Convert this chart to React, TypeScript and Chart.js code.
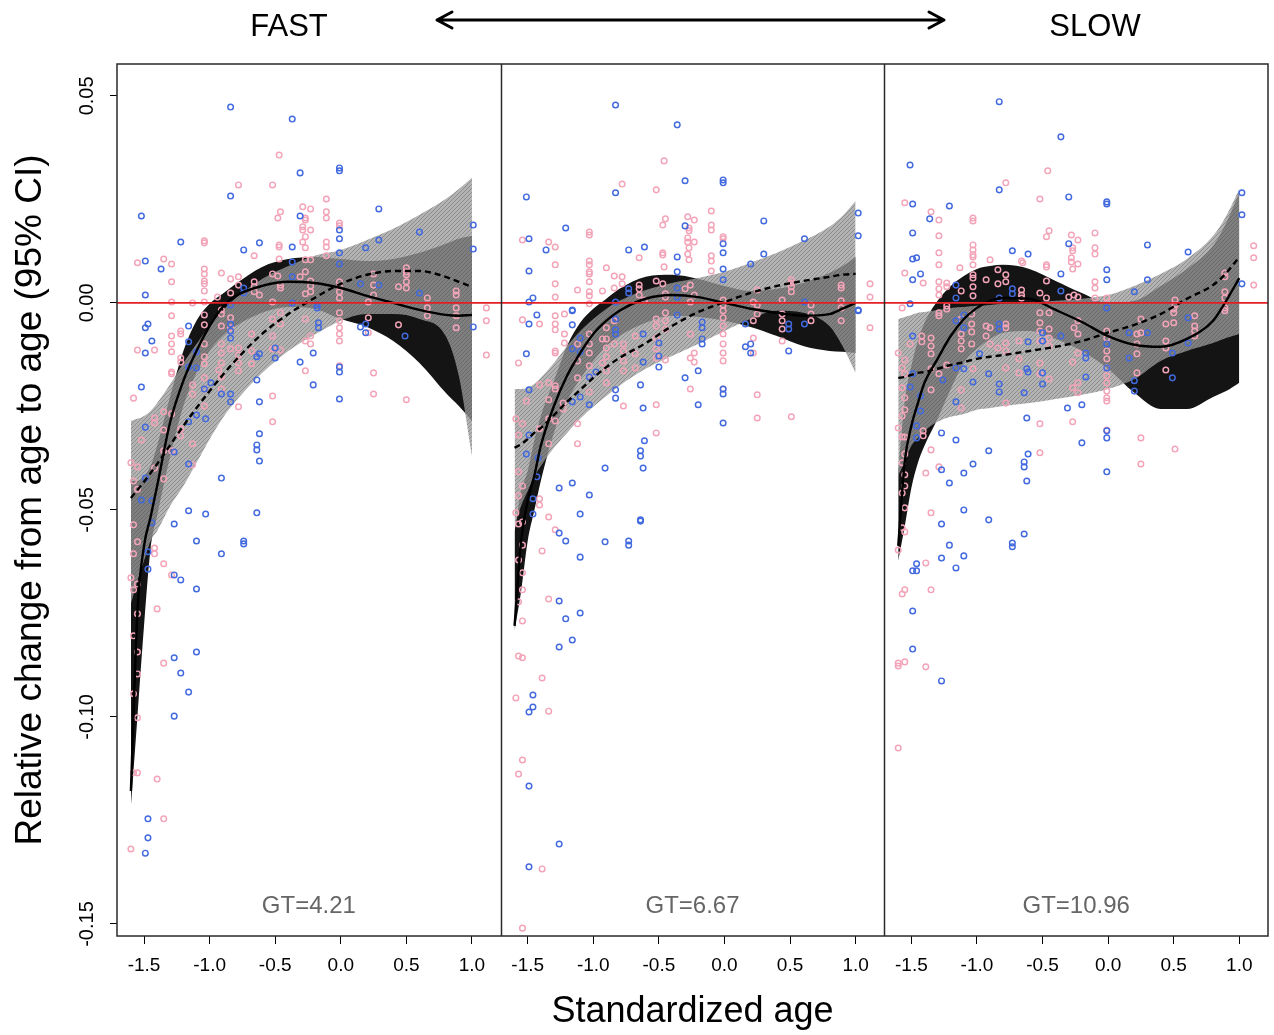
import React, { useEffect, useRef } from 'react';
import { Chart, registerables } from 'chart.js';

Chart.register(...registerables);

// ---------- axes ----------
const X_TICKS = [-1.5, -1.0, -0.5, 0.0, 0.5, 1.0];
const X_TICK_LABELS = ['-1.5', '-1.0', '-0.5', '0.0', '0.5', '1.0'];
const Y_TICKS = [-0.15, -0.1, -0.05, 0, 0.05];
const Y_TICK_LABELS = ['-0.15', '-0.10', '-0.05', '0.00', '0.05'];
const PANEL_WIDTH = 2.925; // standardized-age units spanned by one panel
const X_MIN = -1.706;
const X_MAX = X_MIN + 3 * PANEL_WIDTH;
const Y_MIN = -0.1529;
const Y_MAX = 0.0577;
const ZERO = 0;

const PANEL_LABELS = ['GT=4.21', 'GT=6.67', 'GT=10.96'];
const HEADER_LEFT = 'FAST';
const HEADER_RIGHT = 'SLOW';
const X_TITLE = 'Standardized age';
const Y_TITLE = 'Relative change from age to age (95% CI)';

// ---------- fitted curves (shared age grid) ----------
const CURVE_X = [-1.6, -1.55, -1.5, -1.45, -1.4, -1.3, -1.2, -1.1, -1.0, -0.9, -0.8, -0.6, -0.4, -0.2, 0, 0.2, 0.4, 0.6, 0.8, 0.9, 1.0];

// panel 1 (GT=4.21)
const P1_FIT = [-0.1179, -0.0744, -0.0587, -0.0517, -0.0442, -0.0287, -0.0188, -0.0116, -0.0056, -0.001, 0.0017, 0.0041, 0.0051, 0.0048, 0.0036, 0.0017, 0, -0.0017, -0.0029, -0.0031, -0.0029];
const P1_FIT_HI = [-0.043, -0.043, -0.0418, -0.0394, -0.0345, -0.0225, -0.0116, -0.0043, -0.0002, 0.0022, 0.0046, 0.0087, 0.0106, 0.0111, 0.0106, 0.0101, 0.0106, 0.0121, 0.0143, 0.0155, 0.0162];
const P1_FIT_LO = [-0.1215, -0.0998, -0.078, -0.0594, -0.0514, -0.037, -0.0249, -0.0169, -0.0116, -0.008, -0.0056, -0.0024, -0.001, -0.0014, -0.0039, -0.0058, -0.0092, -0.0145, -0.0217, -0.0249, -0.0285];
const P1_TREND = [-0.0471, -0.0452, -0.0432, -0.0411, -0.0389, -0.0343, -0.0297, -0.0254, -0.0213, -0.0174, -0.0138, -0.0075, -0.0027, 0.0012, 0.0046, 0.0068, 0.0077, 0.0077, 0.0063, 0.0051, 0.0039];
const P1_TREND_HI = [-0.0285, -0.028, -0.0273, -0.0261, -0.0242, -0.0196, -0.0145, -0.0099, -0.0056, -0.0019, 0.0012, 0.0058, 0.0089, 0.0114, 0.0128, 0.0152, 0.0179, 0.0213, 0.0251, 0.0275, 0.0302];
const P1_TREND_LO = [-0.0727, -0.0671, -0.0623, -0.0575, -0.0551, -0.049, -0.0442, -0.0386, -0.0329, -0.0278, -0.0237, -0.0169, -0.0116, -0.0077, -0.0043, -0.0027, -0.0027, -0.0039, -0.008, -0.0176, -0.037];

// panel 2 (GT=6.67)
const P2_FIT = [-0.078, -0.0575, -0.0478, -0.0418, -0.0345, -0.0249, -0.0176, -0.0121, -0.0075, -0.0043, -0.0019, 0.001, 0.0019, 0.0014, 0, -0.0014, -0.0024, -0.0031, -0.0027, -0.0014, 0];
const P2_FIT_HI = [-0.0551, -0.0454, -0.0406, -0.0333, -0.0273, -0.0188, -0.0104, -0.0048, -0.0014, 0.001, 0.0034, 0.0063, 0.0068, 0.0058, 0.0041, 0.0029, 0.0034, 0.0048, 0.0072, 0.0089, 0.0111];
const P2_FIT_LO = [-0.0792, -0.0696, -0.0575, -0.0502, -0.043, -0.0314, -0.0237, -0.0184, -0.014, -0.0104, -0.008, -0.0048, -0.0031, -0.0034, -0.0043, -0.0058, -0.008, -0.0104, -0.0116, -0.0118, -0.0121];
const P2_TREND = [-0.035, -0.0341, -0.0329, -0.0314, -0.0302, -0.0271, -0.0239, -0.021, -0.0181, -0.0155, -0.0133, -0.0097, -0.0056, -0.0022, 0.0002, 0.0024, 0.0041, 0.0053, 0.0063, 0.0068, 0.007];
const P2_TREND_HI = [-0.0208, -0.0208, -0.0205, -0.0196, -0.0181, -0.0145, -0.0104, -0.0068, -0.0039, -0.0014, 0.0005, 0.0031, 0.0048, 0.006, 0.0075, 0.0097, 0.0121, 0.015, 0.0184, 0.021, 0.0246];
const P2_TREND_LO = [-0.0539, -0.049, -0.0454, -0.042, -0.0394, -0.035, -0.0314, -0.028, -0.0251, -0.0225, -0.02, -0.0159, -0.0128, -0.0099, -0.0068, -0.0039, -0.0019, -0.0024, -0.0056, -0.0104, -0.0169];

// panel 3 (GT=10.96)
const P3_FIT = [-0.0587, -0.0382, -0.0297, -0.0242, -0.0193, -0.0135, -0.008, -0.0039, -0.0012, 0.0005, 0.0012, 0.001, -0.0017, -0.0046, -0.008, -0.0101, -0.0106, -0.0087, -0.0043, 0.0005, 0.006];
const P3_FIT_HI = [-0.0406, -0.0237, -0.0152, -0.0092, -0.0048, 0.0005, 0.0041, 0.0065, 0.0082, 0.0089, 0.0092, 0.0082, 0.0053, 0.0024, 0, 0.0005, 0.0041, 0.0082, 0.0138, 0.0193, 0.0266];
const P3_FIT_LO = [-0.0623, -0.0539, -0.0447, -0.0386, -0.0345, -0.028, -0.0208, -0.0145, -0.0111, -0.0087, -0.0072, -0.0068, -0.0087, -0.0116, -0.0159, -0.0217, -0.0256, -0.0256, -0.0227, -0.0213, -0.0193];
const P3_TREND = [-0.0181, -0.0179, -0.0174, -0.0169, -0.0167, -0.0159, -0.015, -0.0143, -0.0135, -0.013, -0.0126, -0.0116, -0.0106, -0.0092, -0.0072, -0.0053, -0.0027, 0.001, 0.0043, 0.0072, 0.0111];
const P3_TREND_HI = [-0.0039, -0.0034, -0.0029, -0.0024, -0.0022, -0.0017, -0.0012, -0.001, -0.0007, -0.0005, -0.0002, 0, 0.0005, 0.001, 0.0019, 0.0041, 0.007, 0.0106, 0.0162, 0.021, 0.0275];
const P3_TREND_LO = [-0.0418, -0.0382, -0.0345, -0.0326, -0.0309, -0.0287, -0.0275, -0.0268, -0.0258, -0.0254, -0.0249, -0.0242, -0.0232, -0.0222, -0.0208, -0.0184, -0.014, -0.0116, -0.0097, -0.0085, -0.0075];

// ---------- observations [standardized age, relative change] ----------
const P1_BLUE = [
  [-0.84, 0.0473], [-0.37, 0.0444], [-0.31, 0.0314], [-0.01, 0.0326], [-0.01, 0.0319], [-0.84, 0.0258], [-1.52, 0.021], [0.29, 0.0227], [-0.31, 0.021], [-1.22, 0.0147], [-0.62, 0.0145], [-0.74, 0.0128], [-0.37, 0.0135], [-0.01, 0.0176], [-0.01, 0.0155], [0.6, 0.0171], [1.01, 0.0188], [1.01, 0.013], [-1.49, 0.0101], [-1.37, 0.0082], [-1.49, 0.0019], [0.29, 0.0152], [0.19, 0.0133], [-0.37, 0.0099], [-0.37, 0.0063], [-0.01, 0.0094], [-0.01, 0.0121], [-0.74, 0.0036], [-0.74, 0.0024], [0.6, 0.0024], [0.15, 0.0046], [0.29, 0.0043], [-0.18, -0.0005], [-0.18, -0.0012], [-0.37, 0], [-0.84, -0.0005],
  [-1.49, -0.006], [-1.47, -0.0051], [-1.44, -0.0092], [-1.49, -0.0121], [-1.16, -0.0056], [-1.16, -0.0094], [-1.1, -0.0118], [-1.16, -0.0155], [-1.1, -0.0157], [-0.84, -0.0051], [-0.84, -0.0068], [-0.84, -0.0085], [-1.52, -0.0203], [-0.99, -0.0193], [-1.04, -0.0208], [-0.84, -0.022], [-0.84, -0.0239], [-0.91, -0.022], [-0.64, -0.0186], [-0.62, -0.0239], [-0.62, -0.0316], [-0.64, -0.0343], [-0.64, -0.0355], [-0.62, -0.0382], [-1.1, -0.0271], [-1.16, -0.0287], [-1.03, -0.028], [-1.49, -0.03], [-1.27, -0.036], [-1.16, -0.0389], [-1.49, -0.0423], [-1.52, -0.0476], [-1.44, -0.0478], [-0.91, -0.0423], [-1.16, -0.0502], [-1.03, -0.051], [-0.64, -0.0507], [-1.44, -0.0531], [-1.27, -0.0534], [-0.62, -0.0123], [-0.64, -0.013], [-0.5, -0.0133], [-0.5, -0.0109], [-0.31, -0.0143], [-0.21, -0.0121], [-0.21, -0.0198], [-0.01, -0.0155], [-0.01, -0.0167], [-0.01, -0.0232], [0.15, -0.0058], [0.19, -0.0051], [0.19, -0.0072], [0.49, -0.008], [1.01, -0.0058], [-0.17, -0.0048], [-0.17, -0.006],
  [-1.1, -0.0575], [-0.74, -0.0575], [-0.74, -0.0582], [-0.91, -0.0606], [-1.47, -0.0601], [-1.47, -0.0643], [-1.27, -0.0657], [-1.22, -0.0669], [-1.1, -0.0691], [-1.1, -0.0843], [-1.27, -0.0857], [-1.22, -0.0894], [-1.16, -0.094], [-1.27, -0.0998], [-1.47, -0.1246], [-1.47, -0.1292], [-1.49, -0.1329],
];
const P1_PINK = [
  [-0.47, 0.0357], [-0.78, 0.0285], [-0.52, 0.0285], [-0.11, 0.0251], [-0.29, 0.0232], [-0.23, 0.0227], [-0.46, 0.022], [-0.48, 0.0205], [-0.11, 0.022], [-0.11, 0.0205], [-0.27, 0.0205], [-0.27, 0.02], [-0.01, 0.0193], [-0.01, 0.0186], [-0.29, 0.0184], [-0.29, 0.0176], [-0.23, 0.0176], [-0.27, 0.016], [-1.04, 0.015], [-1.04, 0.0145], [-0.11, 0.0147], [-0.11, 0.0135], [-0.11, 0.0114], [-0.29, 0.0147], [-0.27, 0.0133], [-0.47, 0.014], [-0.47, 0.0135], [-0.66, 0.0114], [-1.35, 0.0106], [-1.55, 0.0097], [-1.29, 0.0094], [-0.47, 0.0106], [-0.27, 0.0104], [-0.23, 0.0104], [-1.04, 0.0082], [-1.04, 0.007], [-1.04, 0.0053], [-1.04, 0.0046], [-0.91, 0.0072], [-1.29, 0.0051], [-1.04, 0.0029], [-1.13, 0], [-1.04, 0.0002], [-1.29, 0.0002], [-0.52, 0.007], [-0.48, 0.0065], [-0.31, 0.0063], [-0.27, 0.0075], [-0.84, 0.0058], [-0.78, 0.0063], [-0.78, 0.0043], [-0.66, 0.0051], [-0.66, 0.0039], [-0.66, 0.0027], [-0.84, 0.0024], [-0.62, 0.0019], [-0.46, 0.0043], [-0.46, 0.0036], [-0.23, 0.0053], [-0.23, 0.0041], [-0.23, 0.0027], [-0.27, 0.0022], [-0.01, 0.0051], [-0.01, 0.0039], [-0.01, 0.0027], [-0.01, 0.0012], [0.25, 0.007], [0.25, 0.0043], [0.25, 0.0019], [0.21, 0.0002], [0.44, 0.0039], [0.5, 0.0085], [0.5, 0.0075], [0.5, 0.0068], [0.5, 0.0051], [0.5, 0.0036], [0.66, 0.0012], [0.88, 0.0029], [0.88, 0.0019], [1.11, -0.0012], [-0.52, 0.0002], [-0.91, -0.0017], [-0.94, 0.0014],
  [-1.29, -0.0031], [-1.29, -0.008], [-1.29, -0.0099], [-1.29, -0.0118], [-1.22, -0.0068], [-1.22, -0.0075], [-1.55, -0.0114], [-1.42, -0.0114], [-1.29, -0.0167], [-1.29, -0.0171], [-1.22, -0.0133], [-1.22, -0.0143], [-1.04, -0.0053], [-1.04, -0.0029], [-1.04, -0.0099], [-1.04, -0.013], [-1.04, -0.0147], [-1.04, -0.0181], [-1.04, -0.0208], [-1.04, -0.0249], [-1.13, -0.0198], [-1.13, -0.022], [-0.91, -0.0027], [-0.91, -0.0056], [-0.84, -0.0036], [-0.84, -0.006], [-0.91, -0.0099], [-0.91, -0.0121], [-0.91, -0.0145], [-0.91, -0.0179], [-0.84, -0.0111], [-0.93, -0.0162], [-0.91, -0.0208], [-0.78, -0.0109], [-0.78, -0.0126], [-0.78, -0.0145], [-0.78, -0.0164], [-0.78, -0.0251], [-0.68, -0.0075], [-0.68, -0.0116], [-0.68, -0.0147], [-0.52, -0.0039], [-0.52, -0.008], [-0.52, -0.0111], [-0.52, -0.0225], [-0.52, -0.0287], [-0.46, -0.0024], [-0.46, -0.0051], [-0.46, -0.0114], [-0.27, -0.0039], [-0.27, -0.0092], [-0.23, -0.0099], [-0.27, -0.0164], [-0.23, -0.008], [-0.01, -0.0024], [-0.01, -0.0043], [-0.01, -0.006], [-0.01, -0.0075], [-0.01, -0.0092], [-0.01, -0.0152], [0.21, -0.0036], [0.21, -0.0072], [0.25, -0.0169], [0.25, -0.022], [0.44, -0.0053], [0.5, -0.0234], [0.88, -0.006], [0.88, -0.0031], [0.88, -0.0012], [1.11, -0.0043], [1.11, -0.0126], [0.66, -0.0012], [0.66, -0.0031], [-1.58, -0.023], [-1.35, -0.0263], [-1.29, -0.0268], [-1.42, -0.0278], [-1.42, -0.029], [-1.35, -0.0307], [-1.52, -0.0331], [-1.22, -0.0304], [-1.22, -0.0321], [-1.13, -0.034], [-1.35, -0.0357], [-1.29, -0.0357], [-1.6, -0.0386], [-1.55, -0.0396], [-1.13, -0.0391], [-1.42, -0.0399], [-1.58, -0.043], [-1.55, -0.045], [-1.35, -0.0425], [-1.58, -0.0536],
  [-1.55, -0.0577], [-1.42, -0.0592], [-1.42, -0.0606], [-1.58, -0.0606], [-1.35, -0.063], [-1.29, -0.0657], [-1.6, -0.0664], [-1.55, -0.0679], [-1.58, -0.0693], [-1.4, -0.0739], [-1.55, -0.0751], [-1.58, -0.0804], [-1.55, -0.0843], [-1.35, -0.087], [-1.55, -0.0896], [-1.58, -0.0944], [-1.55, -0.1002], [-1.58, -0.1135], [-1.55, -0.1135], [-1.4, -0.115], [-1.35, -0.1246], [-1.6, -0.1319],
];

const P2_BLUE = [
  [-0.83, 0.0478], [-0.36, 0.043], [-0.3, 0.0295], [-0.01, 0.0297], [-0.01, 0.029], [-0.83, 0.0266], [-1.51, 0.0256], [-1.21, 0.0181], [-0.3, 0.0186], [0.3, 0.0198], [-1.49, 0.0155], [-1.36, 0.0128], [-0.73, 0.0128], [-0.61, 0.0135], [-0.36, 0.0111], [-0.36, 0.0075], [-0.36, 0.0036], [-0.36, 0.0014], [-0.01, 0.0143], [-0.01, 0.0121], [-0.01, 0.0082], [-0.01, 0.0056], [0.2, 0.0094], [0.3, 0.0118], [0.61, 0.0155], [1.02, 0.0217], [1.02, 0.0162], [-1.49, 0.0077], [-1.46, 0.0012], [-1.49, 0.0002], [-0.73, 0.0034], [-0.73, 0.0024], [1.02, -0.0019], [0.61, 0.0002], [-0.83, 0.0002], [-1.16, -0.0019],
  [-1.43, -0.0029], [-1.49, -0.0051], [-1.16, -0.0017], [-1.16, -0.0053], [-1.51, -0.0123], [-1.1, -0.0085], [-1.1, -0.0118], [-1.16, -0.0111], [-0.83, -0.0065], [-0.83, -0.0075], [-1.49, -0.021], [-1.03, -0.0179], [-0.98, -0.0167], [-0.83, -0.021], [-0.83, -0.023], [-1.16, -0.0239], [-1.1, -0.0227], [-1.03, -0.0246], [-0.64, -0.0198], [-0.62, -0.0254], [-0.61, -0.0333], [-0.64, -0.0357], [-0.64, -0.037], [-0.62, -0.0399], [-0.91, -0.0399], [-1.49, -0.0319], [-1.51, -0.0365], [-1.42, -0.0374], [-1.43, -0.042], [-1.26, -0.0447], [-1.16, -0.0435], [-1.03, -0.0464], [-1.46, -0.0473], [-1.1, -0.051], [-1.46, -0.051], [-0.64, -0.0524], [-0.62, -0.0075], [-0.62, -0.0143], [-0.5, -0.0097], [-0.5, -0.0128], [-0.5, -0.0155], [-0.36, -0.0029], [-0.3, -0.0181], [-0.2, -0.0164], [-0.2, -0.0246], [-0.17, -0.0046], [-0.17, -0.006], [-0.17, -0.0087], [-0.17, -0.0099], [-0.01, -0.0208], [-0.01, -0.022], [-0.01, -0.029], [0.16, -0.0051], [0.16, -0.0106], [0.2, -0.0099], [0.2, -0.0121], [0.49, -0.0051], [0.49, -0.0063], [0.49, -0.0116], [0.61, -0.0051], [1.02, -0.0017], [-0.83, -0.0039],
  [-1.26, -0.0556], [-1.21, -0.0575], [-0.91, -0.0577], [-0.73, -0.0575], [-0.73, -0.0585], [-1.1, -0.0614], [-0.64, -0.0527], [-1.26, -0.072], [-1.1, -0.0749], [-1.21, -0.0763], [-1.16, -0.0814], [-1.26, -0.0831], [-1.46, -0.0947], [-1.46, -0.0976], [-1.49, -0.0988], [-1.49, -0.1167], [-1.26, -0.1307], [-1.49, -0.1362],
];
const P2_PINK = [
  [-0.46, 0.0343], [-0.78, 0.0287], [-0.52, 0.0273], [-0.1, 0.0222], [-0.28, 0.0208], [-0.23, 0.02], [-0.45, 0.0203], [-0.47, 0.0188], [-0.1, 0.0188], [-0.1, 0.0176], [-0.27, 0.0181], [-0.27, 0.0174], [-0.01, 0.016], [-0.01, 0.0155], [-0.28, 0.0157], [-0.28, 0.0147], [-0.23, 0.0147], [-0.27, 0.0133], [-1.03, 0.0171], [-1.03, 0.0164], [-1.54, 0.0152], [-1.34, 0.0147], [-1.29, 0.0135], [-0.47, 0.0121], [-0.47, 0.0116], [-0.1, 0.0114], [-0.1, 0.0101], [-0.1, 0.0077], [-0.28, 0.0118], [-0.27, 0.0104], [-0.65, 0.0109], [-0.46, 0.0087], [-1.29, 0.0092], [-1.03, 0.0101], [-1.03, 0.0092], [-1.03, 0.0075], [-1.03, 0.007], [-1.03, 0.0051], [-0.9, 0.0085], [-0.84, 0.0065], [-0.78, 0.0063], [-1.29, 0.0046], [-1.12, 0.0031], [-1.29, 0.0014], [-1.03, 0.0027], [-1.03, 0.0017], [-1.03, -0.0002], [-0.93, 0.0029], [-0.84, 0.0036], [-0.78, 0.0046], [-0.65, 0.0043], [-0.65, 0.0034], [-0.65, 0.0019], [-0.61, 0.0007], [-0.52, 0.0053], [-0.47, 0.0046], [-0.45, 0.0022], [-0.45, 0.0014], [-0.3, 0.0034], [-0.26, 0.0043], [-0.23, 0.0019], [-0.26, 0.0002], [-0.01, 0.0007], [-0.01, -0.0005], [0.25, 0.0031], [0.22, 0.0002], [0.25, -0.0005], [0.44, 0.0007], [0.51, 0.0056], [0.51, 0.0048], [0.51, 0.0039], [0.51, 0.0027], [0.66, -0.0005], [0.89, 0.0043], [0.89, 0.0036], [0.89, 0.0005], [1.11, 0.0046], [1.11, 0.0014],
  [-1.54, -0.0041], [-1.41, -0.0051], [-1.29, -0.0031], [-1.29, -0.0051], [-1.29, -0.0065], [-1.22, -0.0027], [-1.22, -0.0075], [-1.22, -0.0097], [-1.29, -0.0116], [-1.29, -0.0121], [-1.57, -0.0145], [-1.03, -0.0075], [-1.03, -0.0099], [-1.03, -0.0121], [-1.03, -0.0152], [-1.03, -0.0179], [-1.03, -0.0215], [-1.12, -0.0099], [-1.12, -0.014], [-1.12, -0.0181], [-0.9, -0.006], [-0.9, -0.0087], [-0.9, -0.0109], [-0.9, -0.013], [-0.9, -0.0164], [-0.9, -0.0193], [-0.93, -0.0087], [-0.93, -0.0145], [-0.84, -0.0043], [-0.84, -0.0099], [-0.77, -0.0099], [-0.77, -0.0116], [-0.77, -0.014], [-0.77, -0.0164], [-0.77, -0.0249], [-0.68, -0.008], [-0.68, -0.0123], [-0.68, -0.0157], [-0.52, -0.0039], [-0.52, -0.0056], [-0.52, -0.0085], [-0.52, -0.0111], [-0.52, -0.0133], [-0.52, -0.0246], [-0.52, -0.0314], [-0.45, -0.0024], [-0.45, -0.0043], [-0.45, -0.0063], [-0.45, -0.0138], [-0.26, -0.0075], [-0.26, -0.0133], [-0.23, -0.0121], [-0.23, -0.0143], [-0.26, -0.0208], [-0.01, -0.0019], [-0.01, -0.0036], [-0.01, -0.0056], [-0.01, -0.0075], [-0.01, -0.0099], [-0.01, -0.0121], [-0.01, -0.014], [-0.01, -0.0208], [0.22, -0.0043], [0.25, -0.0027], [0.22, -0.0085], [0.22, -0.0121], [0.25, -0.0222], [0.25, -0.0278], [0.44, -0.0027], [0.44, -0.0043], [0.44, -0.0063], [0.44, -0.0092], [0.51, -0.0275], [0.66, -0.0027], [0.66, -0.0043], [0.89, -0.0012], [0.89, -0.0043], [1.11, -0.006], [-1.59, -0.028], [-1.54, -0.0292], [-1.51, -0.0237], [-1.41, -0.0198], [-1.34, -0.0193], [-1.29, -0.02], [-1.29, -0.0208], [-1.34, -0.0234], [-1.23, -0.0242], [-1.23, -0.0256], [-1.57, -0.0319], [-1.41, -0.0304], [-1.34, -0.028], [-1.29, -0.0285], [-1.12, -0.0292], [-1.34, -0.034], [-1.12, -0.034], [-1.57, -0.0408], [-1.54, -0.0442], [-1.57, -0.0466], [-1.41, -0.0473], [-1.41, -0.0488], [-1.59, -0.0507], [-1.34, -0.0517], [-1.57, -0.0534], [-1.54, -0.0529],
  [-1.29, -0.0548], [-1.54, -0.0585], [-1.39, -0.0599], [-1.57, -0.0621], [-1.54, -0.0652], [-1.54, -0.0693], [-1.34, -0.0715], [-1.57, -0.0722], [-1.54, -0.0768], [-1.57, -0.0853], [-1.54, -0.0857], [-1.39, -0.0906], [-1.59, -0.0954], [-1.34, -0.0986], [-1.54, -0.1104], [-1.57, -0.1138], [-1.39, -0.1367], [-1.54, -0.151],
];

const P3_BLUE = [
  [-0.83, 0.0486], [-0.36, 0.0401], [-1.51, 0.0333], [-0.83, 0.0273], [-0.3, 0.0256], [-0.01, 0.0244], [-0.01, 0.0239], [-1.49, 0.0239], [-1.21, 0.0234], [-1.36, 0.0203], [-1.49, 0.0169], [-0.73, 0.0126], [-0.61, 0.0118], [-0.3, 0.0143], [0.3, 0.014], [0.61, 0.0123], [1.02, 0.0266], [1.02, 0.0213], [-1.49, 0.0106], [-1.46, 0.0109], [-1.43, 0.007], [-1.49, 0.0056], [-0.36, 0.007], [-0.01, 0.008], [-0.01, 0.0056], [0.2, 0.0027], [0.3, 0.0056], [1.02, 0.0046], [-1.16, 0.0043], [-1.16, 0.0012], [-0.73, 0.0034], [-0.73, 0.0022], [-0.83, 0.0012], [-0.36, 0.0029], [-1.51, -0.0002], [-0.01, -0.0012],
  [-1.49, -0.008], [-1.1, -0.0029], [-1.1, -0.006], [-1.16, -0.0043], [-0.83, -0.0051], [-0.83, -0.0063], [-0.36, -0.008], [-0.5, -0.0072], [-0.5, -0.0092], [-0.61, -0.0094], [-0.17, -0.0121], [-0.17, -0.0133], [-0.17, -0.0179], [-0.01, -0.0099], [-0.01, -0.0157], [0.16, -0.0072], [0.16, -0.0133], [0.2, -0.0188], [0.2, -0.0213], [0.3, -0.0072], [0.49, -0.0121], [0.49, -0.0181], [0.61, -0.0097], [0.61, -0.0036], [-1.49, -0.0171], [-1.51, -0.0203], [-1.43, -0.0225], [-1.43, -0.0261], [-1.46, -0.0297], [-1.46, -0.0326], [-1.26, -0.0186], [-1.16, -0.0157], [-1.1, -0.0159], [-1.03, -0.0191], [-0.98, -0.0123], [-0.83, -0.0196], [-0.83, -0.0215], [-0.91, -0.0171], [-0.64, -0.0217], [-0.62, -0.0159], [-0.61, -0.0167], [-0.5, -0.0169], [-0.5, -0.0196], [-1.16, -0.0239], [-0.62, -0.0278], [-0.31, -0.0254], [-0.2, -0.0246], [-1.27, -0.0314], [-1.16, -0.0331], [-0.91, -0.0357], [-0.61, -0.0365], [-0.64, -0.0384], [-0.64, -0.0396], [-1.03, -0.0389], [-1.1, -0.0411], [-1.27, -0.0403], [-1.21, -0.0435], [-0.62, -0.043], [-0.2, -0.0338], [-0.01, -0.0309], [-0.01, -0.0326], [-0.01, -0.0408], [-1.1, -0.05], [-0.91, -0.0524], [-1.27, -0.0534],
  [-0.64, -0.0558], [-0.73, -0.058], [-0.73, -0.0589], [-1.21, -0.0585], [-1.1, -0.0611], [-1.27, -0.0616], [-1.16, -0.064], [-1.46, -0.063], [-1.49, -0.0647], [-1.46, -0.0647], [-1.49, -0.0744], [-1.49, -0.0836], [-1.27, -0.0913],
];
const P3_PINK = [
  [-0.46, 0.0319], [-0.78, 0.029], [-0.52, 0.0251], [-1.55, 0.0242], [-1.35, 0.022], [-0.1, 0.0169], [-0.45, 0.0174], [-0.47, 0.016], [-0.28, 0.0164], [-0.23, 0.0152], [-1.29, 0.02], [-1.29, 0.0162], [-1.03, 0.0205], [-1.03, 0.0198], [-0.1, 0.0133], [-0.1, 0.0118], [-0.27, 0.0133], [-0.27, 0.0126], [-1.03, 0.014], [-1.03, 0.0128], [-1.03, 0.0116], [-1.03, 0.0111], [-1.03, 0.0092], [-1.29, 0.0121], [-1.29, 0.0092], [-0.9, 0.0104], [-0.65, 0.0097], [-0.28, 0.0109], [-0.28, 0.0099], [-0.23, 0.0094], [-0.47, 0.0092], [-0.47, 0.0087], [-1.13, 0.0085], [-0.27, 0.0082], [-1.55, 0.0072], [-1.41, 0.0048], [-1.29, 0.0051], [-1.29, 0.0034], [-1.29, 0.0019], [-1.23, 0.0048], [-1.23, 0.0039], [-1.03, 0.0068], [-1.03, 0.006], [-1.03, 0.0039], [-1.03, 0.0017], [-1.12, 0.0029], [-0.93, 0.0056], [-0.84, 0.008], [-0.84, 0.0046], [-0.78, 0.0068], [-0.78, 0.0051], [-0.66, 0.0031], [-0.66, 0.0019], [-0.66, 0.0012], [-0.52, 0.0024], [-0.47, 0.0053], [-0.47, 0.0012], [-0.3, 0.0014], [-0.26, 0.0019], [-0.23, 0.0014], [-0.1, 0.0051], [-0.1, 0.0036], [-0.1, 0.0012], [-0.01, 0.0012], [0.51, 0.0007], [0.51, -0.0005], [0.89, 0.0072], [0.89, 0.0063], [0.89, 0.0027], [0.89, 0.0012], [1.11, 0.0138], [1.11, 0.0109], [1.11, 0.0043], [-0.66, 0.0101],
  [-1.23, -0.0007], [-1.23, -0.0015], [-1.29, -0.0024], [-1.29, -0.0031], [-1.04, -0.0027], [-1.04, -0.0051], [-1.04, -0.007], [-1.04, -0.0099], [-1.12, -0.0039], [-1.12, -0.0075], [-1.12, -0.0092], [-1.12, -0.0111], [-1.42, -0.008], [-1.42, -0.0094], [-1.35, -0.0085], [-1.35, -0.0104], [-1.57, -0.0012], [-1.51, -0.0099], [-1.6, -0.0121], [-1.57, -0.0157], [-1.35, -0.0123], [-1.35, -0.0159], [-1.29, -0.0171], [-1.23, -0.015], [-1.55, -0.0138], [-1.55, -0.0171], [-0.93, -0.0056], [-0.9, -0.006], [-0.93, -0.008], [-0.9, -0.0099], [-0.84, -0.0109], [-0.78, -0.0051], [-0.78, -0.006], [-0.78, -0.0097], [-0.78, -0.0116], [-0.78, -0.0157], [-0.78, -0.0242], [-0.68, -0.0092], [-0.68, -0.0135], [-0.68, -0.0169], [-0.52, -0.0024], [-0.52, -0.0048], [-0.52, -0.0068], [-0.52, -0.0092], [-0.52, -0.0145], [-0.52, -0.0171], [-0.52, -0.0292], [-0.52, -0.0362], [-0.45, -0.0024], [-0.45, -0.0063], [-0.45, -0.0085], [-0.45, -0.0104], [-0.45, -0.0184], [-0.27, -0.0143], [-0.27, -0.0205], [-0.23, -0.0121], [-0.23, -0.0193], [-0.23, -0.0217], [-0.27, -0.0287], [-0.26, -0.006], [-0.23, -0.0043], [-0.23, -0.0075], [-0.01, -0.0068], [-0.01, -0.0085], [-0.01, -0.0116], [-0.01, -0.0135], [-0.01, -0.0157], [-0.01, -0.0176], [-0.01, -0.0193], [-0.01, -0.0213], [-0.01, -0.0229], [-0.01, -0.0237], [-0.01, -0.0307], [0.22, -0.0075], [0.22, -0.0099], [0.22, -0.0123], [0.22, -0.0169], [0.25, -0.0072], [0.25, -0.0039], [0.25, -0.0326], [0.25, -0.0389], [0.44, -0.0092], [0.44, -0.0109], [0.44, -0.0051], [0.5, -0.0048], [0.44, -0.0162], [0.51, -0.0353], [0.5, -0.0015], [0.5, -0.0024], [0.66, -0.0031], [0.66, -0.0056], [0.66, -0.0068], [0.66, -0.008], [0.89, -0.0012], [0.89, -0.0019], [-1.6, -0.0302], [-1.57, -0.0324], [-1.55, -0.0324], [-1.57, -0.0273], [-1.55, -0.0258], [-1.55, -0.0229], [-1.57, -0.0205], [-1.41, -0.0309], [-1.41, -0.0321], [-1.35, -0.021], [-1.55, -0.0365], [-1.57, -0.0386], [-1.35, -0.0355], [-1.55, -0.0415], [-1.55, -0.0442], [-1.57, -0.0459], [-1.29, -0.0396], [-1.39, -0.0411], [-1.55, -0.0495], [-1.35, -0.0507], [-1.12, -0.021], [-1.12, -0.0254], [-1.03, -0.0159],
  [-1.57, -0.0543], [-1.55, -0.0553], [-1.6, -0.0597], [-1.39, -0.0628], [-1.55, -0.0693], [-1.57, -0.0703], [-1.35, -0.0693], [-1.6, -0.087], [-1.6, -0.0877], [-1.55, -0.0867], [-1.39, -0.0879], [-1.6, -0.1075],
];

// ---------- styling ----------
const FONT = "'Liberation Sans', Arial, Helvetica, sans-serif";
const BLUE = 'rgb(66,106,222)';
const PINK = 'rgb(243,164,184)';
const RED = 'rgb(228,30,36)';
const BAND_BLACK = '#141414';

function makeHatch(): CanvasPattern | string {
  const c = document.createElement('canvas');
  c.width = 4;
  c.height = 4;
  const g = c.getContext('2d');
  if (!g) return 'rgba(158,158,158,0.78)';
  g.fillStyle = 'rgba(158,158,158,0.78)';
  g.fillRect(0, 0, 4, 4);
  g.strokeStyle = 'rgba(70,70,70,0.35)';
  g.lineWidth = 1;
  g.beginPath();
  g.moveTo(0, 4); g.lineTo(4, 0);
  g.moveTo(-1, 1); g.lineTo(1, -1);
  g.moveTo(3, 5); g.lineTo(5, 3);
  g.stroke();
  return g.createPattern(c, 'repeat') || 'rgba(158,158,158,0.78)';
}

export default function App() {
  const ref = useRef<HTMLCanvasElement | null>(null);

  useEffect(() => {
    const canvas = ref.current;
    if (!canvas) return;
    const hatch = makeHatch();

    const panels = [
      { fit: P1_FIT, fitHi: P1_FIT_HI, fitLo: P1_FIT_LO, trend: P1_TREND, trendHi: P1_TREND_HI, trendLo: P1_TREND_LO, blue: P1_BLUE, pink: P1_PINK },
      { fit: P2_FIT, fitHi: P2_FIT_HI, fitLo: P2_FIT_LO, trend: P2_TREND, trendHi: P2_TREND_HI, trendLo: P2_TREND_LO, blue: P2_BLUE, pink: P2_PINK },
      { fit: P3_FIT, fitHi: P3_FIT_HI, fitLo: P3_FIT_LO, trend: P3_TREND, trendHi: P3_TREND_HI, trendLo: P3_TREND_LO, blue: P3_BLUE, pink: P3_PINK },
    ];

    const datasets: any[] = [];
    const bandBase = {
      borderWidth: 0,
      borderColor: 'rgba(0,0,0,0)',
      pointRadius: 0,
      cubicInterpolationMode: 'monotone',
    };
    const pointBase = {
      showLine: false,
      pointStyle: 'circle',
      pointRadius: 2.8,
      pointBorderWidth: 1.45,
      pointBackgroundColor: 'rgba(0,0,0,0)',
    };
    panels.forEach((pn, p) => {
      const off = p * PANEL_WIDTH;
      const curve = (arr: number[]) => CURVE_X.map((x, i) => ({ x: x + off, y: arr[i] }));
      const pts = (arr: number[][]) => arr.map(([x, y]) => ({ x: x + off, y }));
      // CI of solid fit (black)
      datasets.push({ ...bandBase, data: curve(pn.fitHi), fill: '+1', backgroundColor: BAND_BLACK, order: 40 });
      datasets.push({ ...bandBase, data: curve(pn.fitLo), fill: false, order: 40 });
      // CI of dashed fit (hatched grey)
      datasets.push({ ...bandBase, data: curve(pn.trendHi), fill: '+1', backgroundColor: hatch, order: 30 });
      datasets.push({ ...bandBase, data: curve(pn.trendLo), fill: false, order: 30 });
      // observations
      datasets.push({ ...pointBase, data: pts(pn.pink), pointBorderColor: PINK, borderColor: PINK, order: 21 });
      datasets.push({ ...pointBase, data: pts(pn.blue), pointBorderColor: BLUE, borderColor: BLUE, order: 20 });
      // fitted curves
      datasets.push({ data: curve(pn.fit), borderColor: '#000', borderWidth: 2.4, pointRadius: 0, fill: false, cubicInterpolationMode: 'monotone', order: 10 });
      datasets.push({ data: curve(pn.trend), borderColor: '#000', borderWidth: 2.4, borderDash: [6, 4], pointRadius: 0, fill: false, cubicInterpolationMode: 'monotone', order: 10 });
    });
    // zero reference line
    datasets.push({ data: [{ x: X_MIN, y: ZERO }, { x: X_MAX, y: ZERO }], borderColor: RED, borderWidth: 1.8, pointRadius: 0, fill: false, order: 0 });

    const decor = {
      id: 'panelDecor',
      afterDatasetsDraw(chart: any) {
        const { ctx, chartArea: a, scales } = chart;
        const xs = scales.x;
        ctx.save();
        ctx.strokeStyle = '#2a2a2a';
        ctx.lineWidth = 1.5;
        ctx.strokeRect(a.left, a.top, a.right - a.left, a.bottom - a.top);
        for (let p = 1; p < 3; p++) {
          const px = Math.round(xs.getPixelForValue(X_MIN + p * PANEL_WIDTH)) + 0.5;
          ctx.beginPath();
          ctx.moveTo(px, a.top);
          ctx.lineTo(px, a.bottom);
          ctx.stroke();
        }
        ctx.fillStyle = '#666';
        ctx.font = `24px ${FONT}`;
        ctx.textAlign = 'center';
        ctx.textBaseline = 'alphabetic';
        PANEL_LABELS.forEach((t, p) => {
          const cx = xs.getPixelForValue(X_MIN + PANEL_WIDTH / 2 + p * PANEL_WIDTH);
          ctx.fillText(t, cx, a.bottom - 23);
        });
        ctx.restore();
      },
      afterDraw(chart: any) {
        const { ctx } = chart;
        ctx.save();
        ctx.fillStyle = '#000';
        ctx.font = `31px ${FONT}`;
        ctx.textAlign = 'center';
        ctx.textBaseline = 'alphabetic';
        ctx.fillText(HEADER_LEFT, 289, 36);
        ctx.fillText(HEADER_RIGHT, 1095, 36);
        ctx.strokeStyle = '#000';
        ctx.lineWidth = 3;
        ctx.lineCap = 'round';
        ctx.lineJoin = 'round';
        ctx.beginPath();
        ctx.moveTo(437, 20); ctx.lineTo(944, 20);
        ctx.moveTo(452, 12); ctx.lineTo(437, 20); ctx.lineTo(452, 28);
        ctx.moveTo(929, 12); ctx.lineTo(944, 20); ctx.lineTo(929, 28);
        ctx.stroke();
        ctx.restore();
      },
    };

    const chart = new Chart(canvas, {
      type: 'line',
      data: { datasets },
      options: {
        animation: false,
        responsive: false,
        devicePixelRatio: 1,
        events: [],
        layout: { padding: { top: 64, right: 6, left: 0, bottom: 0 } },
        plugins: { legend: { display: false }, tooltip: { enabled: false } },
        scales: {
          x: {
            type: 'linear',
            min: X_MIN,
            max: X_MAX,
            afterFit: (s: any) => { s.height = 99; },
            afterBuildTicks: (s: any) => {
              s.ticks = [0, 1, 2].flatMap((p) => X_TICKS.map((v) => ({ value: v + p * PANEL_WIDTH })));
            },
            ticks: {
              autoSkip: false,
              maxRotation: 0,
              minRotation: 0,
              padding: 10,
              color: '#000',
              font: { size: 19, family: FONT },
              callback: (_v: any, i: number) => X_TICK_LABELS[i % X_TICK_LABELS.length],
            },
            grid: { drawOnChartArea: false, drawTicks: true, tickLength: 8, color: '#000', lineWidth: 1 },
            border: { display: false },
            title: {
              display: true,
              text: X_TITLE,
              color: '#000',
              font: { size: 36, family: FONT },
              padding: { top: 0, bottom: 1 },
            },
          },
          y: {
            type: 'linear',
            min: Y_MIN,
            max: Y_MAX,
            afterFit: (s: any) => { s.width = 117; },
            afterBuildTicks: (s: any) => { s.ticks = Y_TICKS.map((v) => ({ value: v })); },
            ticks: {
              autoSkip: false,
              minRotation: 90,
              maxRotation: 90,
              crossAlign: 'center',
              padding: 0,
              color: '#000',
              font: { size: 20, family: FONT },
              callback: (_v: any, i: number) => Y_TICK_LABELS[i],
            },
            grid: { drawOnChartArea: false, drawTicks: true, tickLength: 7, color: '#000', lineWidth: 1 },
            border: { display: false },
            title: {
              display: true,
              text: Y_TITLE,
              color: '#000',
              font: { size: 37, family: FONT },
              padding: { top: 9, bottom: 0 },
            },
          },
        },
      } as any,
      plugins: [decor],
    });

    return () => chart.destroy();
  }, []);

  return (
    <div style={{ position: 'fixed', left: 0, top: 0, width: 1274, height: 1035, background: '#fff' }}>
      <canvas ref={ref} width={1274} height={1035} style={{ display: 'block' }} />
    </div>
  );
}
